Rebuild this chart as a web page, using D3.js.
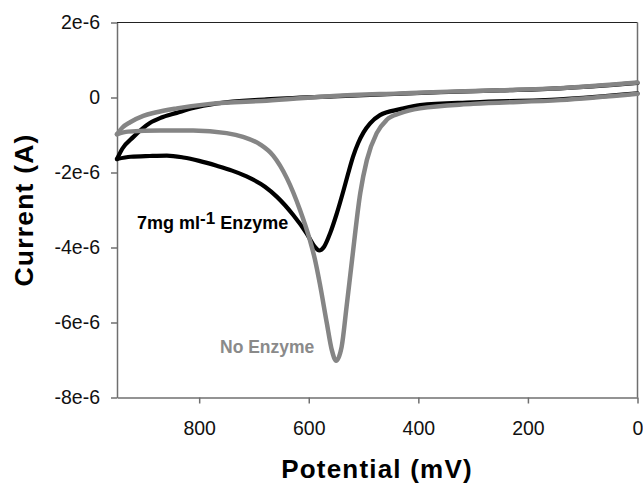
<!DOCTYPE html>
<html>
<head>
<meta charset="utf-8">
<script src="https://cdn.jsdelivr.net/npm/d3@7"></script>
<style>
  html, body { margin: 0; padding: 0; background: #fff; }
  svg { display: block; font-family: "Liberation Sans", Arial, Helvetica, sans-serif; }
</style>
</head>
<body>
<svg id="chart" width="643" height="484"></svg>
<script>
// ---- Data (current in microamps, potential in mV) ----
const MICRO = 1e-6;

// 7 mg/ml enzyme: forward scan 0 -> 950 mV
const enzymeFwdPotential = [0, 141, 250, 360, 433, 555, 677, 768, 811, 841, 870, 890, 920, 940, 950];
const enzymeFwdCurrent   = [0.39, 0.245, 0.19, 0.14, 0.10, 0.03, -0.05, -0.16, -0.28, -0.41, -0.54, -0.68, -1.05, -1.36, -1.64];
// 7 mg/ml enzyme: reverse scan 950 -> 0 mV
const enzymeRevPotential = [950, 925, 890, 859, 829, 800, 768, 740, 707, 680, 658, 628, 604, 589, 581, 572, 561, 549, 537, 528, 519, 510, 500, 488, 470, 433, 397, 300, 141, 0];
const enzymeRevCurrent   = [-1.64, -1.58, -1.56, -1.55, -1.60, -1.69, -1.82, -1.95, -2.15, -2.38, -2.65, -3.14, -3.62, -3.98, -4.08, -3.98, -3.62, -3.10, -2.50, -2.02, -1.57, -1.22, -0.93, -0.69, -0.47, -0.31, -0.20, -0.13, -0.05, 0.11];

// No enzyme: forward scan 0 -> 950 mV
const noEnzymeFwdPotential = [0, 141, 250, 360, 433, 555, 677, 780, 841, 880, 902, 926, 940, 950];
const noEnzymeFwdCurrent   = [0.40, 0.25, 0.195, 0.15, 0.11, 0.04, -0.085, -0.17, -0.29, -0.40, -0.49, -0.66, -0.80, -0.98];
// No enzyme: reverse scan 950 -> 0 mV
const noEnzymeRevPotential = [950, 930, 871, 811, 750, 720, 689, 665, 640, 616, 598, 589, 580, 567, 558, 550, 540, 531, 521, 506, 494, 476, 458, 433, 397, 300, 141, 0];
const noEnzymeRevCurrent   = [-0.98, -0.91, -0.88, -0.88, -0.95, -1.05, -1.25, -1.55, -2.15, -3.0, -3.8, -4.3, -4.95, -6.02, -6.73, -7.02, -6.65, -5.58, -4.33, -2.55, -1.67, -0.95, -0.6, -0.42, -0.29, -0.17, -0.07, 0.10];

// Ticks
const xTickValues = [800, 600, 400, 200, 0];
const xTickLabels = ["800", "600", "400", "200", "0"];
const yTickValues = [2e-6, 0, -2e-6, -4e-6, -6e-6, -8e-6];
const yTickLabels = ["2e-6", "0", "-2e-6", "-4e-6", "-6e-6", "-8e-6"];

// Text
const xTitle = "Potential (mV)";
const yTitle = "Current (A)";

// ---- Layout ----
const plot = { left: 117, right: 637.5, top: 22.5, bottom: 397.5 };
const svg = d3.select("#chart");

const x = d3.scaleLinear().domain([950, 0]).range([plot.left, plot.right]);
const y = d3.scaleLinear().domain([-8e-6, 2e-6]).range([plot.bottom, plot.top]);

const axisColor = "#6f6f6f";

// frame top and right
svg.append("line").attr("x1", plot.left).attr("x2", plot.right).attr("y1", plot.top).attr("y2", plot.top)
  .attr("stroke", "#222").attr("stroke-width", 1);
svg.append("line").attr("x1", plot.right).attr("x2", plot.right).attr("y1", plot.top).attr("y2", plot.bottom)
  .attr("stroke", axisColor).attr("stroke-width", 1.5);

// axes
const yAxis = d3.axisLeft(y).tickValues(yTickValues)
  .tickFormat((d, i) => yTickLabels[i]).tickSize(6).tickSizeOuter(0).tickPadding(11);
const xAxis = d3.axisBottom(x).tickValues(xTickValues)
  .tickFormat((d, i) => xTickLabels[i]).tickSize(6).tickSizeOuter(0).tickPadding(17.5);

const gy = svg.append("g").attr("transform", `translate(${plot.left},0)`).call(yAxis);
const gx = svg.append("g").attr("transform", `translate(0,${plot.bottom})`).call(xAxis);
[gx, gy].forEach(g => {
  g.select(".domain").attr("stroke", axisColor).attr("stroke-width", 1.5);
  g.selectAll(".tick line").attr("stroke", axisColor).attr("stroke-width", 1.5);
  g.selectAll(".tick text").attr("fill", "#111").style("font-size", "19.5px")
    .style("font-family", '"Liberation Sans", Arial, sans-serif');
});

// axis titles
svg.append("text").attr("x", 377).attr("y", 478).attr("text-anchor", "middle")
  .style("font-size", "26px").style("font-weight", "bold").style("letter-spacing", "1.2px")
  .attr("fill", "#000").text(xTitle);
svg.append("text").attr("transform", "translate(33,210) rotate(-90)").attr("text-anchor", "middle")
  .style("font-size", "26.5px").style("font-weight", "bold").style("letter-spacing", "1.2px")
  .attr("fill", "#000").text(yTitle);

// curves (points sorted by screen x so a monotone-x spline can be used)
const line = d3.line()
  .x(d => x(d[0]))
  .y(d => y(d[1] * MICRO))
  .curve(d3.curveMonotoneX);

const zip = (p, c) => p.map((v, i) => [v, c[i]]).sort((a, b) => b[0] - a[0]);

const series = [
  { color: "#000000", width: 4.2, branches: [zip(enzymeFwdPotential, enzymeFwdCurrent), zip(enzymeRevPotential, enzymeRevCurrent)] },
  { color: "#858585", width: 4.5, branches: [zip(noEnzymeFwdPotential, noEnzymeFwdCurrent), zip(noEnzymeRevPotential, noEnzymeRevCurrent)] }
];

series.forEach(s => {
  s.branches.forEach(b => {
    svg.append("path").datum(b).attr("d", line)
      .attr("fill", "none").attr("stroke", s.color).attr("stroke-width", s.width)
      .attr("stroke-linecap", "round").attr("stroke-linejoin", "round");
  });
});

// annotations
const lab1 = svg.append("text").attr("x", 137).attr("y", 229)
  .style("font-size", "18px").style("font-weight", "bold").attr("fill", "#000");
lab1.append("tspan").text("7mg ml");
lab1.append("tspan").attr("dy", -5).style("font-size", "17px").text("-1");
lab1.append("tspan").attr("dy", 5).text(" Enzyme");

svg.append("text").attr("x", 220).attr("y", 353)
  .style("font-size", "17.5px").style("font-weight", "bold").attr("fill", "#8a8a8a")
  .text("No Enzyme");
</script>
</body>
</html>
